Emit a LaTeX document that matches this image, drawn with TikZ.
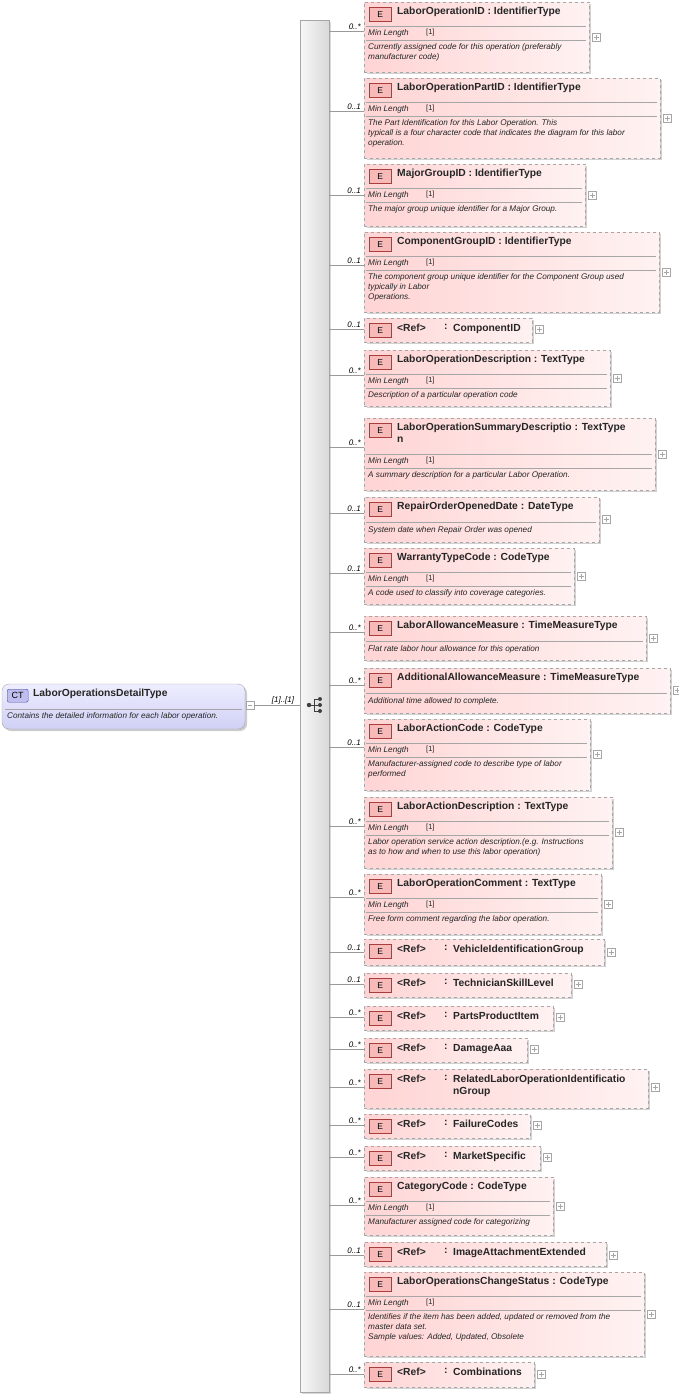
\documentclass[tikz,border=0pt]{standalone}
\usepackage{fontspec}
\setmainfont{Liberation Sans}
\usetikzlibrary{fit}
\begin{document}
\tikzset{
 ebox/.style={draw=gray!70,dashed,left color={rgb,255:red,255;green,212;blue,212},right color={rgb,255:red,255;green,242;blue,242},inner sep=0pt},
 badge/.style={draw={rgb,255:red,170;green,60;blue,60},fill={rgb,255:red,248;green,185;blue,185},minimum width=22pt,minimum height=14pt,inner sep=0pt,font=\fontsize{8.5}{9}\selectfont},
 ttl/.style={anchor=north west,inner sep=0pt,align=left,font=\fontsize{10.3}{12}\selectfont\bfseries,text=black!85},
 dsc/.style={anchor=north west,inner sep=0pt,align=left,font=\fontsize{8.2}{10}\selectfont\itshape,text=black!85},
 mlt/.style={anchor=south east,inner sep=1pt,font=\fontsize{8}{9}\selectfont\itshape},
 sep/.style={draw=gray!70},
 conn/.style={draw=gray!80,line width=0.6pt}
}
\def\toff{0}
\newcommand\plusbox[2]{\draw[gray!70,fill=white] ({#1-4},{#2-4}) rectangle ({#1+4},{#2+4}); \draw[gray!70] ({#1-2.5},{#2}) -- ({#1+2.5},{#2}) ({#1},{#2-2.5}) -- ({#1},{#2+2.5});}
% id top bottom right liney mult title kind desc
\newcommand\elbox[9]{%
 \fill[black!18] (367,{#2+2}) rectangle ({#4+2},{#3+2});
 \node[ebox,fit={(364,#2) (#4,#3)}] (#1) {};
 \node[badge,anchor=north west] at (369,{#2+5}) {E};
 \coordinate (#1l) at (364,#5);
 \draw[conn] (seq.east |- #1l) -- (#1l);
 \node[mlt] at (362,#5) {#6};
 \ifcase#8\relax
   \node[ttl] at (397,{#2+5}) {#7};
   \draw[sep] (366,{#2+25+\toff}) -- ({#4-3},{#2+25+\toff});
   \node[dsc] at (368,{#2+29+\toff}) {#9};
   \plusbox{#4+7}{(#2+#3)/2}
 \or
   \node[ttl] at (397,{#2+5}) {#7};
   \draw[sep] (366,{#2+24+\toff}) -- ({#4-3},{#2+24+\toff});
   \node[dsc,anchor=west] at (368,{#2+31+\toff}) {Min Length};
   \node[dsc,anchor=west,font=\fontsize{7.5}{8}\selectfont] at (426,{#2+31+\toff}) {[1]};
   \draw[sep] (366,{#2+38+\toff}) -- ({#4-3},{#2+38+\toff});
   \node[dsc] at (368,{#2+41+\toff}) {#9};
   \plusbox{#4+7}{(#2+#3)/2}
 \or
   \node[ttl] at (397,{#2+6}) {<Ref>};
   \node[ttl] at (444,{#2+6}) {:};
   \node[ttl] at (453,{#2+6}) {#7};
   \plusbox{#4+7}{#5}
 \fi}
\begin{tikzpicture}[x=1pt,y=-1pt]
\useasboundingbox (0,0) rectangle (679,1395);
% sequence bar
\fill[black!15] (302,22) rectangle (331,1394);
\node[draw=gray!70,left color=gray!6,right color=gray!30,inner sep=0pt,fit={(300,20) (329,1392)}] (seq) {};
% CT node
\fill[black!20,rounded corners=7pt] (4,686) rectangle (247,731);
\node[draw=gray!70,rounded corners=7pt,top color={rgb,255:red,238;green,238;blue,255},bottom color={rgb,255:red,208;green,208;blue,245},inner sep=0pt,fit={(2,684) (245,729)}] (ct) {};
\node[draw={rgb,255:red,70;green,70;blue,160},fill={rgb,255:red,190;green,190;blue,240},rounded corners=2pt,minimum width=21pt,minimum height=13pt,inner sep=0pt,font=\fontsize{9}{9}\selectfont,anchor=north west] (ctb) at (7,689) {CT};
\node[ttl] at (33,689) {LaborOperationsDetailType};
\draw[sep] (5,709) -- (242,709);
\node[dsc] at (7,712) {Contains the detailed information for each labor operation.};
\draw[gray!70,fill=white] (246,701) rectangle (254,709); \draw[gray!70] (248,705) -- (252,705);
\coordinate (ctm) at (254,705);
\draw[conn] (ctm) -- (seq.west |- ctm);
\node[mlt,anchor=south] at (283,705) {[1]..[1]};
% sequence icon
\draw[black!75,line width=0.9pt] (309,705) -- (314,705) (314,699) -- (314,711) (314,699) -- (320,699) (314,705) -- (320,705) (314,711) -- (320,711);
\fill[black!75] (309,705) circle (2.2) (320,699) circle (2) (320,705) circle (2) (320,711) circle (2);
% elements
\elbox{b1}{2}{72}{589}{31}{0..*}{LaborOperationID : IdentifierType}{1}{Currently assigned code for this operation (preferably\\manufacturer code)}
\elbox{b2}{78}{158}{660}{111}{0..1}{LaborOperationPartID : IdentifierType}{1}{The Part Identification for this Labor Operation. This\\typicall is a four character code that indicates the diagram for this labor\\operation.}
\elbox{b3}{164}{226}{585}{195}{0..1}{MajorGroupID : IdentifierType}{1}{The major group unique identifier for a Major Group.}
\elbox{b4}{232}{312}{659}{265}{0..1}{ComponentGroupID : IdentifierType}{1}{The component group unique identifier for the Component Group used\\typically in Labor\\Operations.}
\elbox{b5}{318}{342}{532}{329}{0..1}{ComponentID}{2}{}
\elbox{b6}{350}{406}{610}{375}{0..*}{LaborOperationDescription : TextType}{1}{Description of a particular operation code}
\def\toff{12}
\elbox{b7}{418}{490}{655}{447}{0..*}{LaborOperationSummaryDescriptio : TextType\\n}{1}{A summary description for a particular Labor Operation.}
\def\toff{0}
\elbox{b8}{497}{542}{599}{513}{0..1}{RepairOrderOpenedDate : DateType}{0}{System date when Repair Order was opened}
\elbox{b9}{548}{604}{574}{573}{0..1}{WarrantyTypeCode : CodeType}{1}{A code used to classify into coverage categories.}
\elbox{b10}{616}{660}{646}{632}{0..*}{LaborAllowanceMeasure : TimeMeasureType}{0}{Flat rate labor hour allowance for this operation}
\elbox{b11}{668}{713}{670}{685}{0..*}{AdditionalAllowanceMeasure : TimeMeasureType}{0}{Additional time allowed to complete.}
\elbox{b12}{719}{790}{590}{747}{0..1}{LaborActionCode : CodeType}{1}{Manufacturer-assigned code to describe type of labor\\performed}
\elbox{b13}{797}{868}{612}{826}{0..*}{LaborActionDescription : TextType}{1}{Labor operation service action description.(e.g. Instructions\\as to how and when to use this labor operation)}
\elbox{b14}{874}{934}{601}{897}{0..*}{LaborOperationComment : TextType}{1}{Free form comment regarding the labor operation.}
\elbox{b15}{939}{965}{604}{952}{0..1}{VehicleIdentificationGroup}{2}{}
\elbox{b16}{973}{997}{571}{984}{0..1}{TechnicianSkillLevel}{2}{}
\elbox{b17}{1006}{1030}{553}{1017}{0..*}{PartsProductItem}{2}{}
\elbox{b18}{1038}{1062}{527}{1049}{0..*}{DamageAaa}{2}{}
\elbox{b19}{1069}{1108}{648}{1087}{0..*}{RelatedLaborOperationIdentificatio\\nGroup}{2}{}
\elbox{b20}{1114}{1138}{530}{1125}{0..*}{FailureCodes}{2}{}
\elbox{b21}{1146}{1170}{540}{1157}{0..*}{MarketSpecific}{2}{}
\elbox{b22}{1177}{1235}{553}{1205}{0..*}{CategoryCode : CodeType}{1}{Manufacturer assigned code for categorizing}
\elbox{b23}{1242}{1266}{606}{1255}{0..1}{ImageAttachmentExtended}{2}{}
\elbox{b24}{1272}{1356}{644}{1309}{0..1}{LaborOperationsChangeStatus : CodeType}{1}{Identifies if the item has been added, updated or removed from the\\master data set.\\Sample values: Added, Updated, Obsolete}
\elbox{b25}{1362}{1387}{534}{1374}{0..*}{Combinations}{2}{}
\end{tikzpicture}
\end{document}
